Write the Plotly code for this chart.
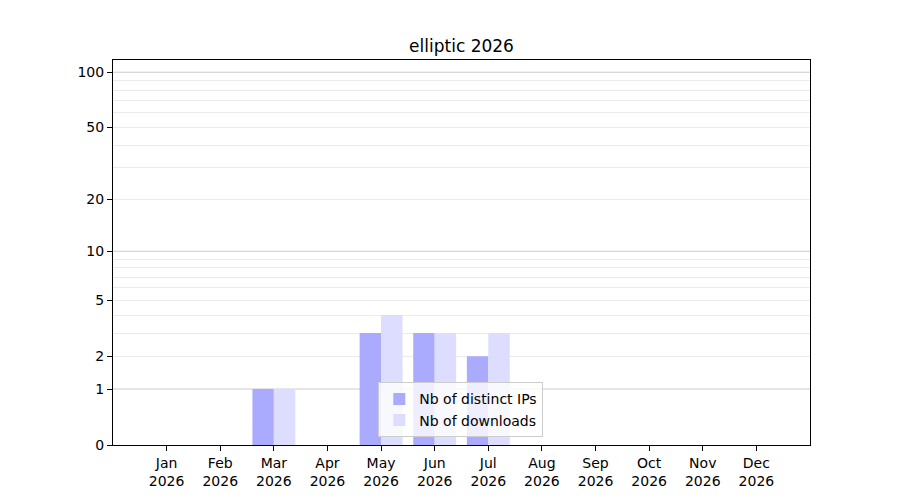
import numpy as np
import plotly.graph_objects as go

months = ["Jan", "Feb", "Mar", "Apr", "May", "Jun", "Jul", "Aug", "Sep", "Oct", "Nov", "Dec"]
year = "2026"
ips = [0, 0, 1, 0, 3, 3, 2, 0, 0, 0, 0, 0]
downloads = [0, 0, 1, 0, 4, 3, 3, 0, 0, 0, 0, 0]
ytick_vals = [0, 1, 2, 5, 10, 20, 50, 100]
major_grid = [1, 10, 100]
minor_grid = [2, 3, 4, 5, 6, 7, 8, 9, 20, 30, 40, 50, 60, 70, 80, 90]


def tr(v):
    return np.log10(1 + np.asarray(v, dtype=float))


x = list(range(len(months)))
font = "DejaVu Sans"

fig = go.Figure()
fig.add_trace(go.Bar(x=x, y=tr(ips), name="Nb of distinct IPs",
                     marker=dict(color="#aaaaff", line=dict(width=0))))
fig.add_trace(go.Bar(x=x, y=tr(downloads), name="Nb of downloads",
                     marker=dict(color="#ddddff", line=dict(width=0))))

for g in major_grid:
    fig.add_shape(type="line", xref="paper", x0=0, x1=1, yref="y", y0=float(tr(g)), y1=float(tr(g)),
                  line=dict(color="#cccccc", width=1), layer="below")

fig.update_layout(
    width=900, height=500,
    margin=dict(l=105, r=98, t=52, b=63, autoexpand=False),
    paper_bgcolor="white", plot_bgcolor="white",
    barmode="group", bargap=0.2, bargroupgap=0,
    font=dict(family=font, size=14, color="black"),
    title=dict(text="elliptic 2026", x=0.5, xref="paper", y=1 - 38 / 500, yref="container",
               xanchor="center", yanchor="middle", font=dict(size=17, family=font)),
    legend=dict(x=0.499, y=0.02, xanchor="center", yanchor="bottom",
                bgcolor="rgba(255,255,255,0.8)", bordercolor="#cccccc", borderwidth=1,
                font=dict(size=14, family=font)),
    xaxis=dict(range=[-1, 12], tickmode="array", tickvals=x,
               ticktext=[f"{m}<br>{year}" for m in months],
               showgrid=False, zeroline=False, ticks="outside", ticklen=5, tickcolor="black",
               showline=True, linecolor="black", linewidth=1, mirror=True),
    yaxis=dict(range=[0, 2.07], tickmode="array", tickvals=tr(ytick_vals),
               ticktext=[str(v) for v in ytick_vals],
               showgrid=False, zeroline=False, ticks="outside", ticklen=5, tickcolor="black",
               showline=True, linecolor="black", linewidth=1, mirror=True,
               minor=dict(tickmode="array", tickvals=tr(minor_grid), showgrid=True,
                          gridcolor="#ebebeb", gridwidth=1, ticks="")),
)

fig.write_html("out.html")
